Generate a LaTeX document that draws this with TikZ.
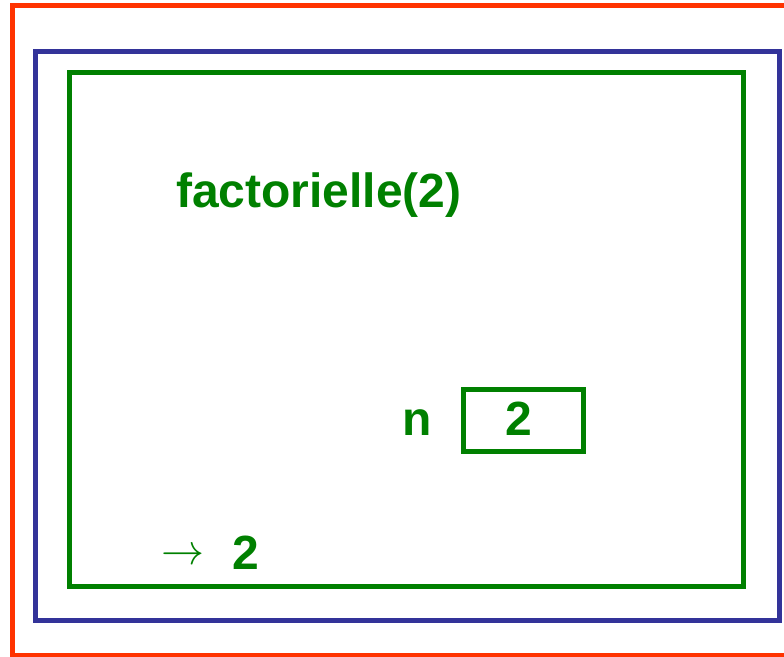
\documentclass[tikz,border=0pt]{standalone}
\usepackage{fontspec}
\setmainfont{Liberation Sans}
\usepackage{tikz}
\usetikzlibrary{positioning}
\definecolor{clrOut} {RGB}{255, 51,  0}
\definecolor{clrMid} {RGB}{ 51, 51,153}
\definecolor{clrCall}{RGB}{  0,128,  0}
\tikzset{
  framebox/.style={rectangle, draw, line width=5pt, inner sep=0pt, outer sep=0pt},
  calltxt/.style={font=\fontsize{48}{56}\selectfont\bfseries, text=clrCall, inner sep=0pt},
  valbox/.style={rectangle, draw=clrCall, line width=5pt, inner sep=0pt,
    minimum width=120pt, minimum height=62pt},
  retarrow/.style={text=clrCall, inner sep=0pt},
}
\begin{document}
\begin{tikzpicture}[x=1pt, y=1pt]
\useasboundingbox (0,0) rectangle (784,656);
% nested call frames
\node[framebox, draw=clrOut, minimum width=777.5pt, minimum height=649.5pt, anchor=south west] (outer) at (12.5, 1) {};
\node[framebox, draw=clrMid, minimum width=744pt, minimum height=569pt, anchor=south west] (middle) at (35.5, 35.5) {};
\node[framebox, draw=clrCall, minimum width=674pt, minimum height=514pt, anchor=south west] (inner) at (69.5, 69.5) {};
% call and local variable
\node[calltxt, anchor=base west] (call) at (176, 448) {factorielle(2)};
\node[valbox] (nbox) at (523, 235) {};
\node[calltxt, anchor=base] (nval) at (518.5, 220) {2};
\node[calltxt, anchor=base west] (nname) at (402, 220) {n};
% returned value
\node[retarrow] (ret) at (183, 99) {\scalebox{4.3}{$\rightarrow$}};
\node[calltxt, anchor=base west] (retval) at (232, 87) {2};
\end{tikzpicture}
\end{document}
